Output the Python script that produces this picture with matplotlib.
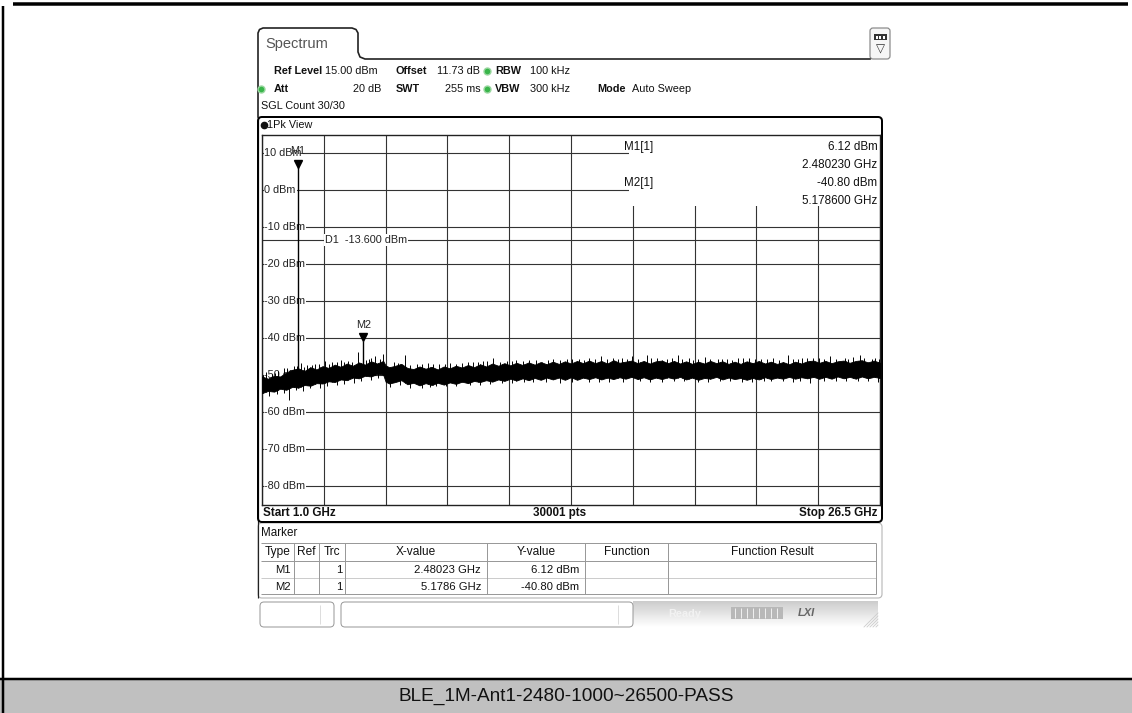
import matplotlib
matplotlib.use('Agg')
import matplotlib.pyplot as plt
import matplotlib.patches as patches
import matplotlib.transforms as mtransforms
import numpy as np

# ---- data ----
f_start = 1.0
f_stop = 26.5
ref_level = 15.0
bottom_level = -85.0
level_ticks = [10, 0, -10, -20, -30, -40, -50, -60, -70, -80]
d1_level = -13.6

# noise band of the trace (GHz, dBm)
env_freq = [1.0, 1.25, 1.5, 1.75, 2.0, 2.25, 2.5, 2.75, 3.0, 3.25, 3.5, 3.75,
            4.0, 4.25, 4.5, 4.75, 5.0, 5.25, 5.5, 5.75, 6.0, 6.1, 6.25, 6.5, 6.75,
            7.0, 7.25, 7.5, 7.75, 8.0, 8.25, 8.5, 8.75, 9.0, 9.25, 9.5, 9.75,
            10.0, 10.25, 10.5, 10.75, 11.0, 11.25, 11.5, 11.75, 12.0, 12.25, 12.5, 12.75,
            13.0, 13.25, 13.5, 13.75, 14.0, 14.25, 14.5, 14.75, 15.0, 15.25, 15.5, 15.75,
            16.0, 16.25, 16.5, 16.75, 17.0, 17.25, 17.5, 17.75, 18.0, 18.25, 18.5, 18.75,
            19.0, 19.25, 19.5, 19.75, 20.0, 20.25, 20.5, 20.75, 21.0, 21.25, 21.5, 21.75,
            22.0, 22.25, 22.5, 22.75, 23.0, 23.25, 23.5, 23.75, 24.0, 24.25, 24.5, 24.75,
            25.0, 25.25, 25.5, 25.75, 26.0, 26.25, 26.5]
env_upper = [-50.4, -51.0, -50.2, -50.4, -49.3, -48.6, -48.2, -48.9, -47.9, -48.5, -47.6, -48.1,
             -47.2, -47.8, -46.9, -47.5, -46.6, -47.2, -46.3, -46.9, -46.2, -47.4, -47.9, -47.5, -47.0,
             -48.1, -48.4, -47.7, -48.3, -47.8, -48.5, -47.7, -48.2, -47.5, -48.0, -47.3, -47.9,
             -47.1, -47.7, -46.9, -47.5, -46.8, -47.4, -46.7, -47.3, -46.6, -47.2, -46.5, -47.1,
             -46.4, -47.0, -46.3, -46.9, -46.2, -46.8, -46.1, -46.8, -46.2, -46.9, -46.0, -46.7,
             -46.4, -46.1, -46.8, -46.2, -46.9, -46.3, -46.1, -46.8, -46.2, -46.9, -46.3, -47.0,
             -46.4, -46.9, -46.2, -46.8, -46.3, -47.0, -46.4, -47.0, -46.3, -46.8, -46.2, -46.9,
             -46.4, -47.0, -46.5, -47.1, -46.4, -46.9, -46.3, -46.1, -46.7, -46.2, -46.8, -46.3,
             -46.1, -46.7, -46.2, -46.0, -46.6, -46.1, -46.7]
env_lower = [-54.9, -54.3, -54.5, -53.7, -54.0, -53.2, -53.4, -52.7, -52.9, -52.2, -52.3, -51.7,
             -51.9, -51.2, -51.4, -50.7, -50.9, -50.2, -50.4, -49.7, -49.9, -51.8, -52.3, -51.9, -51.4,
             -52.5, -52.1, -52.8, -52.2, -52.7, -52.1, -52.6, -52.0, -52.4, -51.8, -52.2, -51.6,
             -51.9, -51.4, -51.8, -51.2, -51.6, -51.0, -51.5, -50.9, -51.4, -50.8, -51.3, -50.7,
             -51.2, -50.7, -51.3, -50.6, -51.3, -50.7, -51.1, -50.6, -51.2, -50.7, -51.1, -50.6,
             -51.0, -50.5, -51.1, -50.6, -51.2, -50.7, -51.1, -50.6, -51.0, -50.5, -51.2, -50.7,
             -51.3, -50.8, -51.0, -50.5, -51.2, -50.7, -51.1, -50.8, -51.3, -50.8, -51.2, -50.6,
             -51.1, -50.7, -51.0, -50.5, -51.0, -50.6, -50.9, -50.5, -51.0, -50.5, -51.0, -50.4,
             -50.9, -50.5, -51.0, -50.4, -50.9, -50.5, -50.8]

# single spikes sticking out of the band
spike_up_freq = [1.05, 1.15, 1.42, 1.55, 1.68, 1.92, 2.05, 2.3, 2.45, 2.6, 2.75, 2.85, 3.05,
                 3.2, 3.35, 3.6, 3.75, 3.9, 4.1, 4.26, 4.4, 4.55, 4.7, 4.96, 5.3, 5.4, 5.5,
                 5.66, 5.85, 5.99, 6.45, 6.6, 6.9, 7.1, 7.4, 7.6, 7.85, 8.05, 8.3, 8.55, 8.75,
                 9.0, 9.25, 9.5, 9.7, 9.9, 10.1, 10.3, 10.53, 10.8, 11.1, 11.3, 11.5, 11.75,
                 12.0, 12.3, 12.55, 12.8, 13.0, 13.3, 13.58, 13.8, 14.1, 14.3, 14.5, 14.75,
                 15.0, 15.25, 15.5, 15.7, 15.85, 16.05, 16.25, 16.5, 16.87, 17.05, 17.3, 17.5,
                 17.7, 17.9, 18.16, 18.35, 18.6, 18.8, 19.0, 19.27, 19.5, 19.8, 20.0, 20.2,
                 20.4, 20.63, 20.85, 21.1, 21.35, 21.6, 21.85, 22.1, 22.35, 22.7, 22.9, 23.1,
                 23.3, 23.5, 23.75, 24.0, 24.2, 24.43, 24.7, 25.05, 25.2, 25.4, 25.67, 25.85,
                 26.16, 26.3, 26.45]
spike_up_level = [-50.0, -49.3, -49.8, -49.4, -48.9, -48.2, -48.0, -47.6, -47.6, -46.8, -47.9,
                  -47.3, -47.2, -46.9, -47.0, -46.3, -47.1, -46.6, -46.5, -45.9, -46.6, -46.1,
                  -46.4, -43.7, -46.0, -45.6, -45.5, -44.9, -45.7, -44.3, -46.5, -46.8, -44.6,
                  -47.3, -46.9, -46.9, -46.7, -47.1, -47.0, -46.9, -46.8, -47.0, -46.8, -46.6,
                  -46.4, -46.6, -46.2, -46.3, -45.3, -46.4, -46.2, -46.1, -45.9, -46.3, -46.0,
                  -46.0, -46.6, -46.0, -45.8, -45.9, -45.8, -45.7, -45.6, -45.9, -45.4, -45.6,
                  -44.9, -45.8, -45.5, -45.8, -45.3, -45.6, -44.9, -45.8, -44.6, -45.4, -45.4,
                  -45.9, -45.6, -45.5, -44.6, -45.7, -45.5, -45.9, -45.7, -45.2, -45.6, -45.6,
                  -45.6, -45.8, -45.9, -45.5, -45.4, -45.3, -45.8, -45.7, -45.6, -45.4, -45.9,
                  -44.6, -45.7, -45.6, -45.5, -45.3, -45.4, -45.5, -45.6, -44.9, -45.8, -45.5,
                  -45.6, -45.2, -44.6, -45.5, -45.8, -45.4, -45.6]
spike_down_freq = [1.3, 1.6, 1.9, 2.11, 2.4, 2.7, 3.0, 3.4, 3.7, 4.1, 4.4, 4.8, 5.1, 5.5,
                   5.8, 6.3, 6.7, 7.1, 7.6, 7.93, 8.2, 8.6, 9.0, 9.58, 10.0, 10.4, 10.9, 11.3,
                   11.8, 12.2, 12.7, 13.3, 13.8, 14.5, 14.9, 15.3, 15.9, 16.6, 17.0, 17.5,
                   18.0, 18.4, 19.0, 19.4, 19.9, 20.3, 20.8, 21.2, 21.7, 22.0, 22.5, 22.9,
                   23.2, 23.6, 24.2, 24.7, 25.1, 25.6, 26.0, 26.4]
spike_down_level = [-55.6, -55.2, -54.8, -56.8, -54.0, -54.2, -53.5, -53.4, -52.9, -52.8,
                    -52.4, -52.1, -51.5, -51.4, -50.9, -53.2, -52.6, -53.4, -53.4, -53.3,
                    -53.1, -53.0, -53.0, -52.7, -52.6, -52.4, -52.2, -52.1, -51.9, -51.9,
                    -52.0, -52.2, -51.9, -51.8, -51.8, -51.9, -51.8, -51.7, -51.9, -51.8,
                    -51.7, -51.6, -51.9, -51.9, -51.6, -51.7, -51.8, -52.0, -51.6, -51.6,
                    -51.7, -51.8, -51.7, -52.2, -51.6, -51.6, -51.7, -51.7, -51.6, -51.9]

marker_names = ['M1', 'M2']
marker_freq = [2.48023, 5.1786]
marker_level = [6.12, -40.80]
marker_info_level = ['6.12 dBm', '-40.80 dBm']
marker_info_freq = ['2.480230 GHz', '5.178600 GHz']
table_x = ['2.48023 GHz', '5.1786 GHz']
table_y = ['6.12 dBm', '-40.80 dBm']
table_trc = ['1', '1']
caption = 'BLE_1M-Ant1-2480-1000~26500-PASS'

W, H = 1132, 713
FONT = ['Liberation Sans Narrow', 'Liberation Sans', 'DejaVu Sans']
FS = 7.8
FS_BIG = 8.4

fig = plt.figure(figsize=(W / 100, H / 100), dpi=100)
bg = fig.add_axes([0, 0, 1, 1])
bg.set_xlim(0, W)
bg.set_ylim(H, 0)
bg.axis('off')


def hl(y, x0, x1, lw=1.0, c='black'):
    bg.plot([x0, x1], [y, y], color=c, lw=lw * 0.72, solid_capstyle='butt')


def vl(x, y0, y1, lw=1.0, c='black'):
    bg.plot([x, x], [y0, y1], color=c, lw=lw * 0.72, solid_capstyle='butt')


def rbox(x0, y0, x1, y1, r=3, ec='black', lw=1.0, fc='none', z=1):
    bg.add_patch(patches.FancyBboxPatch((x0, y0), x1 - x0, y1 - y0,
                                        boxstyle='round,pad=0,rounding_size=%s' % r,
                                        ec=ec, fc=fc, lw=lw * 0.72, zorder=z))


def txt(x, y, s, ha='left', fw='normal', c='#111111', fs=FS, **kw):
    bg.text(x, y, s, ha=ha, va='center', fontsize=fs, fontweight=fw, color=c,
            family=FONT, **kw)


# outer page border
hl(3.5, 13, 1128, lw=3.5)
vl(3, 6, H, lw=2.5)

# caption band
bg.add_patch(patches.Rectangle((0, 679), W, 34, fc='#c0c0c0', ec='none'))
hl(678.5, 0, W, lw=2.5)
bg.text(566, 696, caption, ha='center', va='center', fontsize=13.7,
        family='Liberation Sans', color='#111111')

# window tab + header
tab_x = [258, 258, 259.5, 263, 352, 356, 358, 358, 360, 365, 870]
tab_y = [117, 33, 29.5, 28, 28, 29.5, 33, 52, 57, 59, 59]
bg.plot(tab_x, tab_y, color='#222222', lw=1.2)
vl(258, 117, 598, lw=1.2, c='#222222')
txt(265, 44, 'Spectrum', fs=10.5, c='#555555')

# small icon top right
rbox(870, 28, 890, 59, r=3, ec='#888888', lw=1.2, fc='#f6f6f6')
bg.add_patch(patches.Rectangle((873.5, 34), 13, 6, fc='#333333', ec='none'))
for xs in [875.5, 879, 882.5]:
    bg.add_patch(patches.Rectangle((xs, 35.5), 2, 3, fc='white', ec='none'))
bg.text(880, 49, '\u25bd', ha='center', va='center', fontsize=8.5, color='#333333',
        family='DejaVu Sans')

green = '#39b54a'
txt(274, 71, 'Ref Level', fw='bold')
txt(325, 71, '15.00 dBm')
txt(396, 71, 'Offset', fw='bold')
txt(437, 71, '11.73 dB')
bg.plot([487], [71], 'o', ms=5, color=green, mec='#9ad7a0')
txt(495, 71, 'RBW', fw='bold')
txt(530, 71, '100 kHz')

bg.plot([261], [89], 'o', ms=5, color=green, mec='#9ad7a0')
txt(274, 89, 'Att', fw='bold')
txt(381, 89, '20 dB', ha='right')
txt(396, 89, 'SWT', fw='bold')
txt(481, 89, '255 ms', ha='right')
bg.plot([487], [89], 'o', ms=5, color=green, mec='#9ad7a0')
txt(495, 89, 'VBW', fw='bold')
txt(530, 89, '300 kHz')
txt(597, 89, 'Mode', fw='bold')
txt(632, 89, 'Auto Sweep')
txt(261, 106, 'SGL Count 30/30')

# trace window frame
rbox(258, 117, 882, 522, r=4, ec='black', lw=2.0, z=3)
bg.plot([263.5], [125], 'o', ms=4.5, color='#111111')
txt(267, 125.5, '1Pk View')
txt(263, 513, 'Start 1.0 GHz', fw='bold', fs=FS_BIG)
txt(560, 513, '30001 pts', ha='center', fw='bold', fs=FS_BIG)
txt(877, 513, 'Stop 26.5 GHz', ha='right', fw='bold', fs=FS_BIG)

# marker table
rbox(258, 523, 882, 598, r=4, ec='#bbbbbb', lw=1.2)
txt(261, 533, 'Marker', fs=FS_BIG)
col = [261, 294, 319, 345, 487, 585, 668, 876]
hl(543, 261, 876, c='#999999')
hl(561, 261, 876, c='#999999')
hl(578, 261, 876, c='#cccccc')
hl(594, 261, 876, c='#999999')
for cx in col[1:]:
    vl(cx, 543, 594, c='#999999')
heads = ['Type', 'Ref', 'Trc', 'X-value', 'Y-value', 'Function', 'Function Result']
for i, hname in enumerate(heads):
    txt((col[i] + col[i + 1]) / 2, 552, hname, ha='center', fs=8.6, c='#111111')
for i, name in enumerate(marker_names):
    ry = 570 + i * 16.5
    txt(col[1] - 3, ry, name, ha='right', fs=8.1)
    txt(col[3] - 3, ry, table_trc[i], ha='right', fs=8.1)
    txt(col[4] - 6, ry, table_x[i], ha='right', fs=8.1)
    txt(col[5] - 6, ry, table_y[i], ha='right', fs=8.1)

# status bar
rbox(260, 602, 334, 627, r=4, ec='#999999', lw=1.0)
vl(320, 605, 624, c='#dddddd')
rbox(341, 602, 633, 627, r=4, ec='#999999', lw=1.0)
vl(618, 605, 624, c='#dddddd')
grad = np.linspace(0.8, 1.0, 50).reshape(-1, 1) * np.ones((1, 10))
bg.imshow(grad, cmap='gray', vmin=0, vmax=1, extent=(633, 878, 627, 601), aspect='auto',
          zorder=0)
txt(668, 614, 'Ready', fw='bold', c='#f2f2f2')
bg.add_patch(patches.Rectangle((731, 607), 52, 12, fc='#b8b8b8', ec='none'))
for xs in range(735, 782, 6):
    vl(xs, 608, 618, c='#eeeeee')
txt(798, 613, 'LXI', fw='bold', c='#666666', style='italic', fs=8)
for k in range(5):
    bg.plot([864 + 3 * k, 878], [627, 613 + 3 * k], color='#cccccc', lw=0.6)
bg.set_xlim(0, W)
bg.set_ylim(H, 0)

# ---- spectrum plot ----
ax = fig.add_axes([262 / W, 1 - 504.5 / H, 618 / W, 370 / H], zorder=5)
ax.set_xlim(f_start, f_stop)
ax.set_ylim(bottom_level, ref_level)
ax.set_xticks(np.linspace(f_start, f_stop, 11))
ax.set_yticks(level_ticks)
ax.tick_params(length=0, labelleft=False, labelbottom=False)
ax.grid(True, color='#333333', lw=0.8)
ax.set_axisbelow(True)
for s in ax.spines.values():
    s.set_color('#222222')
    s.set_linewidth(1.0)

# marker info area hides the grid top right
ax.add_patch(patches.Rectangle((0.5945, 0.807), 0.41, 0.2, transform=ax.transAxes,
                               fc='white', ec='none', zorder=1.5))

lbl_tr = mtransforms.blended_transform_factory(ax.transAxes, ax.transData)
for lv in level_ticks:
    ax.text(0.004, lv, '%d dBm' % lv, transform=lbl_tr, ha='left', va='center',
            fontsize=FS, family=FONT, color='#222222', zorder=2,
            bbox=dict(fc='white', ec='none', pad=0.6))

ax.axhline(d1_level, color='#333333', lw=0.8, zorder=1)
ax.text(0.1015, d1_level, 'D1  -13.600 dBm', transform=lbl_tr, ha='left', va='center',
        fontsize=FS, family=FONT, color='#222222', zorder=2,
        bbox=dict(fc='white', ec='none', pad=0.6))

# trace
ax.fill_between(env_freq, env_lower, env_upper, color='black', lw=0.6, zorder=3)
up_base = np.interp(spike_up_freq, env_freq, env_lower)
ax.vlines(spike_up_freq, up_base, spike_up_level, color='black', lw=0.7, zorder=3)
dn_base = np.interp(spike_down_freq, env_freq, env_upper)
ax.vlines(spike_down_freq, dn_base, spike_down_level, color='black', lw=0.7, zorder=3)
sig_base = np.interp(marker_freq, env_freq, env_lower)
ax.vlines(marker_freq, sig_base, marker_level, color='black', lw=1.0, zorder=3)

# markers
ax.plot(marker_freq, np.array(marker_level) + 1.0, 'v', ms=5.5, color='black', zorder=4)
for name, fq, lv in zip(marker_names, marker_freq, marker_level):
    ax.annotate(name, (fq, lv), xytext=(0, 11.5), textcoords='offset points',
                ha='center', va='center', fontsize=FS, family=FONT, color='#222222',
                zorder=4)

info_x0 = 0.5865
info_rows = [0.966, 0.917, 0.869, 0.820]
for i in range(2):
    ax.text(info_x0, info_rows[2 * i], '%s[1]' % marker_names[i], transform=ax.transAxes,
            ha='left', va='center', fontsize=FS_BIG, family=FONT, color='#111111', zorder=4)
    ax.text(0.996, info_rows[2 * i], marker_info_level[i], transform=ax.transAxes,
            ha='right', va='center', fontsize=FS_BIG, family=FONT, color='#111111', zorder=4)
    ax.text(0.996, info_rows[2 * i + 1], marker_info_freq[i], transform=ax.transAxes,
            ha='right', va='center', fontsize=FS_BIG, family=FONT, color='#111111', zorder=4)

fig.savefig('out.png', dpi=100)
